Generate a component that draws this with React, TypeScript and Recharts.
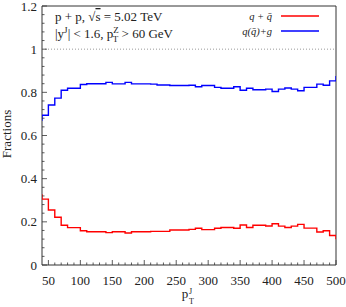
import React from 'react';
import { LineChart, Line, XAxis, YAxis, ReferenceLine, ReferenceArea } from 'recharts';

// left edges of the 10 GeV pT bins (last entry closes the final step)
const PT_BINS = [30, 40, 50, 60, 70, 80, 90, 100, 110, 120, 130, 140, 150, 160, 170, 180, 190, 200, 210, 220, 230, 240, 250, 260, 270, 280, 290, 300, 310, 320, 330, 340, 350, 360, 370, 380, 390, 400, 410, 420, 430, 440, 450, 460, 470, 480, 490, 500, 510];

const QUARK = [0.325, 0.305, 0.255, 0.221, 0.184, 0.173, 0.173, 0.159, 0.154, 0.154, 0.154, 0.150, 0.154, 0.154, 0.148, 0.154, 0.154, 0.154, 0.156, 0.156, 0.156, 0.162, 0.162, 0.162, 0.165, 0.170, 0.164, 0.164, 0.170, 0.174, 0.174, 0.170, 0.185, 0.174, 0.184, 0.184, 0.181, 0.191, 0.180, 0.174, 0.180, 0.188, 0.171, 0.171, 0.153, 0.159, 0.137, 0.122, 0.122];

const GLUON = [0.672, 0.694, 0.741, 0.773, 0.810, 0.819, 0.819, 0.836, 0.840, 0.840, 0.840, 0.846, 0.839, 0.839, 0.846, 0.839, 0.839, 0.839, 0.838, 0.834, 0.834, 0.832, 0.832, 0.832, 0.833, 0.826, 0.832, 0.832, 0.823, 0.819, 0.819, 0.826, 0.810, 0.819, 0.812, 0.812, 0.815, 0.804, 0.815, 0.820, 0.815, 0.807, 0.823, 0.823, 0.838, 0.833, 0.853, 0.872, 0.872];

const X_TICKS = [50, 100, 150, 200, 250, 300, 350, 400, 450, 500];
const X_TICK_LABELS = ['50', '100', '150', '200', '250', '300', '350', '400', '450', '500'];
const Y_TICKS = [0, 0.2, 0.4, 0.6, 0.8, 1, 1.2];
const Y_TICK_LABELS = ['0', '0.2', '0.4', '0.6', '0.8', '1', '1.2'];

const data = PT_BINS.map((pt, i) => ({ pt, quark: QUARK[i], gluon: GLUON[i] }));

// minor ticks: every 10 GeV on x, every 0.04 on y
const xTickPos: number[] = [];
for (let v = 50; v <= 500; v += 10) xTickPos.push(v);
const yTickPos: number[] = [];
for (let k = 0; k <= 30; k++) yTickPos.push(Math.round(k * 4) / 100);

const FONT = '"Liberation Serif", "DejaVu Serif", serif';
const AX = '#333';

function XTick(props: any) {
  const { x, y, payload } = props;
  const idx = X_TICKS.indexOf(payload.value);
  const major = idx >= 0;
  return (
    <g>
      <line x1={x} x2={x} y1={y} y2={y - (major ? 5 : 2.5)} stroke={AX} strokeWidth={0.8} />
      {major && (
        <text x={x} y={y + 20} textAnchor="middle" fontFamily={FONT} fontSize={13} fill="#222">
          {X_TICK_LABELS[idx]}
        </text>
      )}
    </g>
  );
}

function YTick(props: any) {
  const { x, y, payload } = props;
  const idx = Y_TICKS.findIndex((t) => Math.abs(t - payload.value) < 1e-6);
  const major = idx >= 0;
  return (
    <g>
      <line x1={x} x2={x + (major ? 5 : 2.5)} y1={y} y2={y} stroke={AX} strokeWidth={0.8} />
      {major && (
        <text x={x - 5} y={y + 4.5} textAnchor="end" fontFamily={FONT} fontSize={13} fill="#222">
          {Y_TICK_LABELS[idx]}
        </text>
      )}
    </g>
  );
}

export default function App() {
  return (
    <div style={{ position: 'absolute', left: 0, top: 0, width: 346, height: 307, background: '#fff' }}>
      <LineChart width={346} height={307} data={data} margin={{ top: 6, right: 10, left: 0, bottom: 0 }}>
        <XAxis
          dataKey="pt"
          type="number"
          domain={[40, 500]}
          allowDataOverflow
          ticks={xTickPos}
          interval={0}
          tick={<XTick />}
          tickLine={false}
          axisLine={false}
          tickSize={0}
          tickMargin={0}
          height={42}
        />
        <YAxis
          type="number"
          domain={[0, 1.2]}
          allowDataOverflow
          ticks={yTickPos}
          interval={0}
          tick={<YTick />}
          tickLine={false}
          axisLine={false}
          tickSize={0}
          tickMargin={0}
          width={42}
        />
        <ReferenceLine y={1} stroke="#999" strokeDasharray="1 2" />
        <Line dataKey="quark" type="stepAfter" stroke="#ff0000" strokeWidth={1.4} dot={false} isAnimationActive={false} />
        <Line dataKey="gluon" type="stepAfter" stroke="#0000ff" strokeWidth={1.4} dot={false} isAnimationActive={false} />
        <ReferenceArea x1={40} x2={500} y1={0} y2={1.2} fill="none" stroke={AX} strokeWidth={1} ifOverflow="visible" />
      </LineChart>
      <svg width={346} height={307} style={{ position: 'absolute', left: 0, top: 0, pointerEvents: 'none' }}>
        <g fontFamily={FONT} fontSize={13} fill="#222">
          <text x={55} y={21}>
            p + p, √<tspan style={{ textDecoration: 'overline' }}>s</tspan> = 5.02 TeV
          </text>
          <text x={55} y={38}>
            |y<tspan dy={-5} fontSize={9}>J</tspan>
            <tspan dy={5}>| &lt; 1.6,  p</tspan>
            <tspan dy={-5} fontSize={9}>Z</tspan>
            <tspan dx={-6} dy={9} fontSize={9}>T</tspan>
            <tspan dy={-4}> &gt; 60 GeV</tspan>
          </text>
          <text x={185} y={298} textAnchor="middle">p</text>
          <text x={189} y={294} fontSize={8}>J</text>
          <text x={189} y={304} fontSize={8}>T</text>
          <text transform="translate(11,134) rotate(-90)" textAnchor="middle">Fractions</text>
        </g>
        <g fontFamily={FONT} fontSize={10.5} fontStyle="italic" fill="#222" textAnchor="end">
          <text x={272} y={19.5}>q + q̄</text>
          <text x={272} y={35}>q(q̄)+g</text>
        </g>
        <line x1={281} x2={319} y1={16} y2={16} stroke="#ff0000" strokeWidth={1.4} />
        <line x1={281} x2={319} y1={31} y2={31} stroke="#0000ff" strokeWidth={1.4} />
      </svg>
    </div>
  );
}
